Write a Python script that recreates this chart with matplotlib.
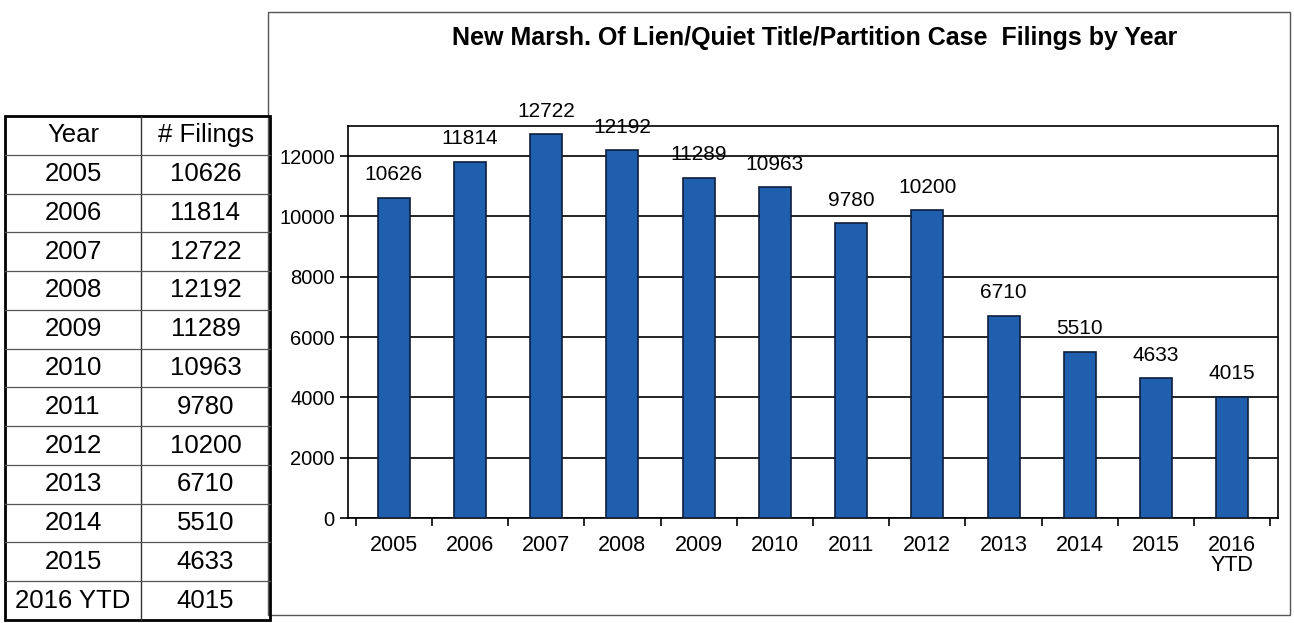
import numpy as np
import matplotlib.pyplot as plt
from matplotlib.patches import Rectangle
from matplotlib.lines import Line2D

plt.rcParams['font.family'] = ['Liberation Sans', 'DejaVu Sans']

# Data
years = ["2005", "2006", "2007", "2008", "2009", "2010", "2011", "2012",
         "2013", "2014", "2015", "2016 YTD"]
tick_labels = ["2005", "2006", "2007", "2008", "2009", "2010", "2011", "2012",
               "2013", "2014", "2015", "2016\nYTD"]
filings = [10626, 11814, 12722, 12192, 11289, 10963, 9780, 10200,
           6710, 5510, 4633, 4015]

W, H = 1294, 623
fig = plt.figure(figsize=(W / 100, H / 100), dpi=100)

def fx(px):
    return px / W

def fy(py):
    return 1 - py / H

# Chart frame
fig.patches.append(Rectangle((fx(268), fy(615)), fx(1290 - 268), (615 - 12) / H,
                             transform=fig.transFigure, fill=False,
                             edgecolor="#555555", linewidth=1.0))

fig.text(fx(815), fy(38), "New Marsh. Of Lien/Quiet Title/Partition Case  Filings by Year",
         ha="center", va="center", fontsize=18, fontweight="bold")

ax = fig.add_axes([fx(348), fy(518), fx(1278 - 348), (518 - 126) / H])
x = np.arange(len(filings))
ax.bar(x, filings, width=0.42, color="#1f5fae", edgecolor="#0d1f3a", linewidth=1.2, zorder=3)
ax.set_ylim(0, 13000)
ax.set_xlim(-0.6, len(filings) - 0.4)
ax.set_yticks(range(0, 13000, 2000))
ax.yaxis.grid(True, color="black", linewidth=1.2, zorder=0)
ax.set_xticks(np.arange(len(filings) + 1) - 0.5, minor=True)
ax.set_xticks(x)
ax.set_xticklabels(tick_labels, fontsize=15.5, linespacing=0.95)
ax.tick_params(axis="x", which="major", length=0, pad=12)
ax.tick_params(axis="x", which="minor", length=6, width=1.2, direction="out")
ax.tick_params(axis="y", labelsize=14.5, length=6, width=1.2)
for s in ax.spines.values():
    s.set_linewidth(1.2)

for xi, v in zip(x, filings):
    ax.text(xi, v + 450, str(v), ha="center", va="bottom", fontsize=15, zorder=4)

# Table on the left
tl, tr, tm = 5, 270, 141
ttop, tbot = 116, 620
rows = len(years) + 1
rh = (tbot - ttop) / rows
fig.patches.append(Rectangle((fx(tl), fy(tbot)), fx(tr - tl), (tbot - ttop) / H,
                             transform=fig.transFigure, fill=False,
                             edgecolor="black", linewidth=2.0))
fig.lines.append(Line2D([fx(tm), fx(tm)], [fy(ttop), fy(tbot)],
                        transform=fig.transFigure, color="#333333", linewidth=1.0))
for i in range(1, rows):
    yy = fy(ttop + i * rh)
    fig.lines.append(Line2D([fx(tl), fx(tr)], [yy, yy],
                            transform=fig.transFigure, color="#555555", linewidth=0.9))

fig.text(fx((tl + tm) / 2), fy(ttop + rh / 2), "Year", ha="center", va="center", fontsize=18.5)
fig.text(fx((tm + tr) / 2), fy(ttop + rh / 2), "# Filings", ha="center", va="center", fontsize=18.5)
for i, (yr, v) in enumerate(zip(years, filings)):
    yc = fy(ttop + (i + 1.5) * rh)
    fig.text(fx((tl + tm) / 2), yc, yr, ha="center", va="center", fontsize=18.5)
    fig.text(fx((tm + tr) / 2), yc, str(v), ha="center", va="center", fontsize=18.5)

fig.savefig("out.png", dpi=100)
